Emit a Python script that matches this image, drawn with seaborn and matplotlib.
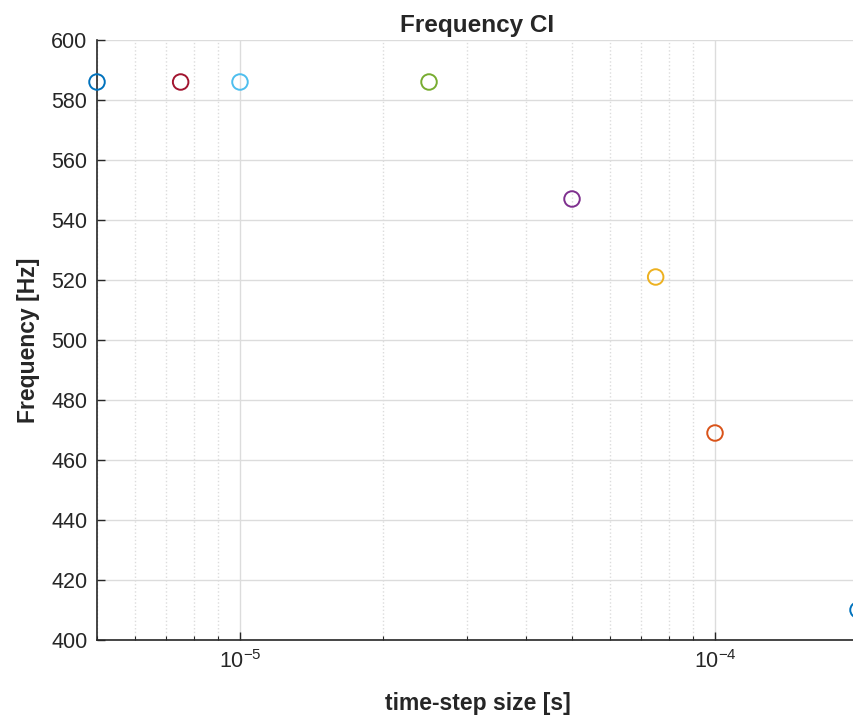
import matplotlib
matplotlib.use("Agg")
import matplotlib.pyplot as plt
import seaborn as sns
import pandas as pd
import numpy as np
from matplotlib.ticker import LogLocator, NullFormatter, FixedLocator, FuncFormatter

sns.set_style("white")
plt.rcParams['font.family'] = ['Liberation Sans', 'DejaVu Sans']
plt.rcParams['mathtext.fontset'] = 'custom'
plt.rcParams['mathtext.rm'] = 'Liberation Sans'
plt.rcParams['mathtext.it'] = 'Liberation Sans'
plt.rcParams['xtick.direction'] = 'in'
plt.rcParams['ytick.direction'] = 'in'

time_step = [2e-4, 1e-4, 7.5e-5, 5e-5, 2.5e-5, 1e-5, 7.5e-6, 5e-6]
frequency = [410, 469, 521, 547, 586, 586, 586, 586]
colors = ['#0072BD', '#D95319', '#EDB120', '#7E2F8E', '#77AC30', '#4DBEEE', '#A2142F', '#0072BD']
labels = ['s1', 's2', 's3', 's4', 's5', 's6', 's7', 's8']
xtick_vals = [1e-5, 1e-4]
ytick_vals = list(range(400, 601, 20))

df = pd.DataFrame({'dt': time_step, 'f': frequency, 'run': labels})

fig = plt.figure(figsize=(8.54, 7.18), dpi=100)
ax = fig.add_axes([97/854, 78/718, 761/854, 600/718])

sns.scatterplot(data=df, x='dt', y='f', hue='run', palette=colors, ax=ax,
                s=125, marker='o', linewidth=1.4,
                legend=False, clip_on=False, zorder=5)
coll = ax.collections[0]
coll.set_edgecolors(colors)
coll.set_facecolors('none')

ax.set_xscale('log')
ax.set_xlim(5e-6, 2e-4)
ax.set_ylim(400, 600)
ax.set_yticks(ytick_vals)
ax.xaxis.set_major_locator(FixedLocator(xtick_vals))
ax.xaxis.set_major_formatter(FuncFormatter(lambda v, p: r'$10^{%d}$' % int(round(np.log10(v)))))
ax.xaxis.set_minor_locator(LogLocator(base=10, subs=np.arange(2, 10)))
ax.xaxis.set_minor_formatter(NullFormatter())

ax.grid(True, which='major', color='#dcdcdc', linewidth=1.0)
ax.grid(True, which='minor', axis='x', color='#dcdcdc', linestyle=':', linewidth=1.0)
ax.set_axisbelow(True)

for s in ['top', 'right']:
    ax.spines[s].set_visible(False)
for s in ['left', 'bottom']:
    ax.spines[s].set_color('#262626')
    ax.spines[s].set_linewidth(1.2)

ax.tick_params(axis='both', which='major', direction='in', length=6, width=1,
               labelsize=15.5, color='#262626', labelcolor='#262626', pad=7,
               bottom=True, left=True)
ax.tick_params(axis='x', which='minor', direction='in', length=3, width=0.8,
               color='#262626', bottom=True)

ax.set_xlabel('time-step size [s]', fontsize=16.5, fontweight='bold', labelpad=14)
ax.set_ylabel('Frequency [Hz]', fontsize=16.5, fontweight='bold', labelpad=8)
ax.set_title('Frequency CI', fontsize=17.5, fontweight='bold', pad=6)

fig.savefig('out.png', dpi=100)
